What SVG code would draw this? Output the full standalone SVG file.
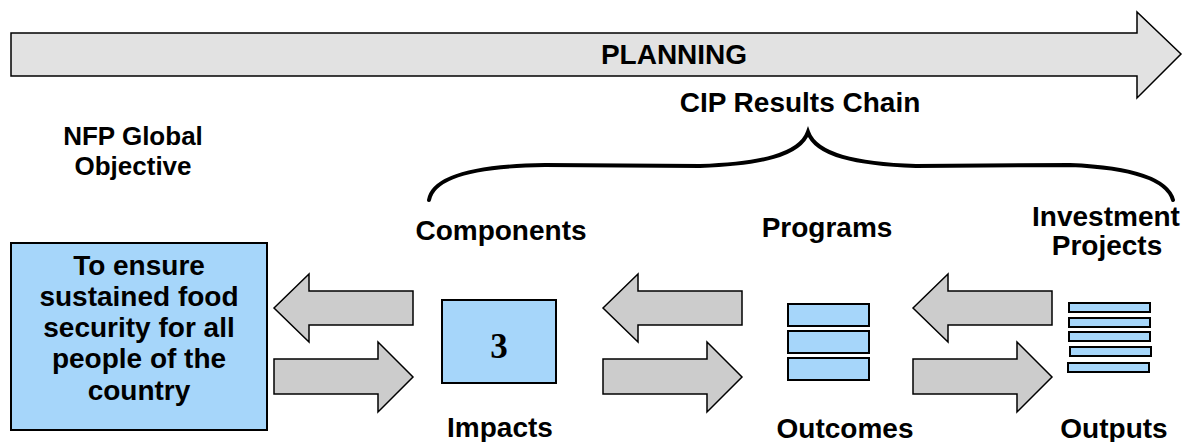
<svg xmlns="http://www.w3.org/2000/svg" width="1190" height="442" viewBox="0 0 1190 442">
<style>
text{font-family:"Liberation Sans",Arial,Helvetica,sans-serif;font-weight:bold;fill:#000;text-anchor:middle}
.lbl{font-size:28px}
.blue{fill:#A6D6FA;stroke:#000;stroke-width:2}
.garrow{fill:#CCCCCC;stroke:#000;stroke-width:1.5;stroke-linejoin:miter}
.brace{fill:none;stroke:#000;stroke-width:4;stroke-linecap:round}
</style>
<defs>
<path id="arrL" d="M0,34 L35,0 L35,17 L139,17 L139,51 L35,51 L35,68 Z"/>
<path id="arrR" d="M0,17 L104,17 L104,0 L139,35 L104,70 L104,52 L0,52 Z"/>
</defs>
<g id="planning">
<path d="M11,33 L1137,33 L1137,12 L1181,54 L1137,98 L1137,76 L11,76 Z" fill="#E2E2E2" stroke="#000" stroke-width="1.5"/>
<text class="lbl" x="674" y="64">PLANNING</text>
</g>
<g id="cip-title">
<text class="lbl" x="800" y="112">CIP Results Chain</text>
<path class="brace" d="M429,200 C433,178 470,166 545,165 L700,166 C760,164 800,155 808,132 C816,155 856,164 916,166 L1070,165 C1140,168 1168,182 1173,200"/>
</g>
<g id="nfp-label">
<text x="133" y="145" style="font-size:26px">NFP Global</text>
<text x="133" y="175" style="font-size:26px">Objective</text>
</g>
<g id="objective">
<rect class="blue" x="11" y="243" width="256" height="187"/>
<text class="lbl" x="139" y="275">To ensure</text>
<text class="lbl" x="139" y="306">sustained food</text>
<text class="lbl" x="139" y="337">security for all</text>
<text class="lbl" x="139" y="368">people of the</text>
<text class="lbl" x="139" y="400">country</text>
</g>
<g id="components">
<text class="lbl" x="501" y="240">Components</text>
<rect class="blue" x="442" y="300" width="114" height="83"/>
<text x="499" y="358" style="font-family:'Liberation Serif','Times New Roman',serif;font-size:35px">3</text>
<text class="lbl" x="500" y="437">Impacts</text>
</g>
<g id="programs">
<text class="lbl" x="827" y="237">Programs</text>
<rect class="blue" x="788" y="304" width="81" height="22"/>
<rect class="blue" x="788" y="331" width="81" height="22"/>
<rect class="blue" x="788" y="358" width="81" height="22"/>
<text class="lbl" x="845" y="438">Outcomes</text>
</g>
<g id="projects">
<text class="lbl" x="1106" y="226">Investment</text>
<text class="lbl" x="1107" y="255">Projects</text>
<rect class="blue" x="1069" y="303" width="81" height="9"/>
<rect class="blue" x="1069" y="318" width="81" height="9"/>
<rect class="blue" x="1069" y="332" width="81" height="9"/>
<rect class="blue" x="1070" y="347" width="81" height="9"/>
<rect class="blue" x="1068" y="363" width="81" height="9"/>
<text class="lbl" x="1114" y="438">Outputs</text>
</g>
<g id="connectors">
<use href="#arrL" x="274" y="274" class="garrow"/>
<use href="#arrR" x="274" y="342" class="garrow"/>
<use href="#arrL" x="603" y="274" class="garrow"/>
<use href="#arrR" x="603" y="342" class="garrow"/>
<use href="#arrL" x="913" y="274" class="garrow"/>
<use href="#arrR" x="913" y="342" class="garrow"/>
</g>
</svg>
